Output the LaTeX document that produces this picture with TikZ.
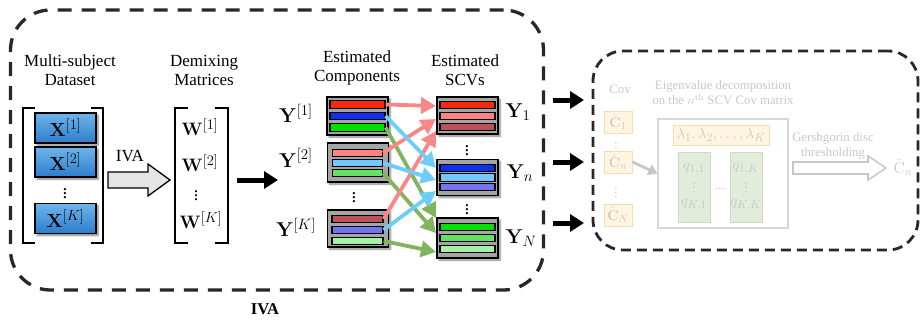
\documentclass[tikz,border=0pt]{standalone}
\usepackage{fix-cm}
\usepackage[no-math]{fontspec}
\setmainfont{Liberation Serif}
\usetikzlibrary{arrows.meta,calc,shadows.blur}
\definecolor{rA}{RGB}{250,40,10}
\definecolor{bA}{RGB}{10,50,240}
\definecolor{gA}{RGB}{0,225,0}
\definecolor{rB}{RGB}{255,130,130}
\definecolor{bB}{RGB}{115,200,255}
\definecolor{gB}{RGB}{100,225,100}
\definecolor{rC}{RGB}{190,80,90}
\definecolor{bC}{RGB}{115,115,240}
\definecolor{gC}{RGB}{165,240,165}
\definecolor{arR}{RGB}{250,135,135}
\definecolor{arB}{RGB}{110,205,250}
\definecolor{arG}{RGB}{130,180,95}
\definecolor{xtop}{RGB}{110,180,235}
\definecolor{xbot}{RGB}{45,125,205}
\definecolor{fadeT}{RGB}{200,200,200}
\definecolor{orF}{RGB}{255,245,225}
\definecolor{orD}{RGB}{240,222,185}
\definecolor{grF}{RGB}{226,236,218}
\definecolor{grD}{RGB}{205,218,195}
\definecolor{bigD}{RGB}{215,215,215}
\definecolor{dashc}{RGB}{40,40,40}
\definecolor{grpF}{RGB}{165,165,165}
\DeclareMathSizes{20}{20}{15}{11}
\DeclareMathSizes{19}{19}{14.5}{11}
\DeclareMathSizes{18}{18}{14.5}{10.5}
\DeclareMathSizes{15}{15}{11.5}{9}
\DeclareMathSizes{14}{14}{10.5}{8}
\begin{document}
\begin{tikzpicture}[x=1pt,y=-1pt,
  lbl/.style={font=\fontsize{17}{19}\selectfont, align=center, inner sep=0},
  mth/.style={font=\fontsize{19}{22}\selectfont, inner sep=0},
  wmth/.style={font=\fontsize{18}{20}\selectfont, inner sep=0},
  ymth/.style={font=\fontsize{20}{22}\selectfont, inner sep=0},
  shd/.style={blur shadow={shadow xshift=2pt, shadow yshift=-2pt, shadow blur steps=6, shadow opacity=50}},
  xbox/.style={draw=black, line width=1.3, top color=xtop, bottom color=xbot, minimum width=61, minimum height=30, inner sep=0, shd},
  ygrp/.style={draw=black, line width=1.3, fill=grpF, minimum width=61, inner sep=0, shd},
  ybar/.style={draw=black, line width=1.2, minimum height=7.5, inner sep=0},
  car/.style={line width=3.8, -{Triangle[length=15pt,width=16pt]}},
  blk/.style={line width=5, -{Triangle[length=14pt,width=17pt]}},
  brk/.style={line width=2.5},
  dbox/.style={draw=dashc, line width=3.3, inner sep=0},
  fade/.style={text=fadeT, font=\fontsize{12.8}{15}\selectfont, inner sep=0, align=center},
  cbox/.style={draw=orD, fill=orF, line width=1, minimum width=28, minimum height=22, inner sep=0, text=fadeT, font=\fontsize{14}{16}\selectfont},
  qbox/.style={draw=grD, fill=grF, line width=1, minimum width=32, minimum height=70, inner sep=0}
]
\useasboundingbox (0,0) rectangle (922,322);

% ---------- dashed frames ----------
\node[dbox, dash pattern=on 14pt off 10pt, rounded corners=40pt, minimum width=533, minimum height=280] (ivabox) at (277,150) {};
\node[dbox, dash pattern=on 10pt off 6pt, line width=2.8, rounded corners=30pt, minimum width=325, minimum height=199] (rbox) at (755.5,150.5) {};
\node[font=\bfseries\fontsize{16.5}{18}\selectfont, inner sep=0] (ivalbl) at (265,309) {IVA};

% ---------- dataset ----------
\node[lbl] (dslbl) at (70,70) {Multi-subject\\Dataset};
\node[minimum width=80, minimum height=135, inner sep=0] (Xmat) at (63,175.5) {};
\draw[brk] ([xshift=12pt]Xmat.north west) -- (Xmat.north west) -- (Xmat.south west) -- ([xshift=12pt]Xmat.south west);
\draw[brk] ([xshift=-12pt]Xmat.north east) -- (Xmat.north east) -- (Xmat.south east) -- ([xshift=-12pt]Xmat.south east);
\node[xbox, mth] (x1) at (65.5,128) {$\mathbf{X}^{[1]}$};
\node[xbox, mth] (x2) at (65.5,162) {$\mathbf{X}^{[2]}$};
\node[mth] (xd) at (65,191) {$\vdots$};
\node[xbox, mth] (xk) at (65.5,218.5) {$\mathbf{X}^{[K]}$};

% ---------- IVA block arrow ----------
\coordinate (ia) at (108,180);
\draw[line width=1.3, fill=gray!20, line join=miter] (ia) ++(0,-8) -- ++(40,0) -- ++(0,-8) -- ++(22,16) -- ++(-22,16) -- ++(0,-8) -- ++(-40,0) -- cycle;
\node[lbl] (ivatxt) at (130,156) {IVA};

% ---------- demixing ----------
\node[lbl] (dmlbl) at (204,70) {Demixing\\Matrices};
\node[minimum width=53, minimum height=135, inner sep=0] (Wmat) at (201.5,175.5) {};
\draw[brk] ([xshift=13pt]Wmat.north west) -- (Wmat.north west) -- (Wmat.south west) -- ([xshift=13pt]Wmat.south west);
\draw[brk] ([xshift=-13pt]Wmat.north east) -- (Wmat.north east) -- (Wmat.south east) -- ([xshift=-13pt]Wmat.south east);
\node[wmth] (w1) at (200,127) {$\mathbf{W}^{[1]}$};
\node[wmth] (w2) at (200,163) {$\mathbf{W}^{[2]}$};
\node[wmth] (wd) at (196,193) {$\vdots$};
\node[wmth] (wk) at (201,220) {$\mathbf{W}^{[K]}$};
\coordinate (ya) at (278,180);
\draw[blk] ([xshift=9pt]Wmat.east |- ya) -- (ya);

% ---------- estimated components ----------
\node[lbl] (eclbl) at (357,68) {Estimated\\Components};
\node[lbl] (sclbl) at (465,70) {Estimated\\SCVs};

\node[ygrp, minimum height=38] (g1) at (357.5,116) {};
\node[ybar, fill=rA, minimum width=55] (y1a) at (357.5,104.5) {};
\node[ybar, fill=bA, minimum width=55] (y1b) at (357.5,116) {};
\node[ybar, fill=gA, minimum width=55] (y1c) at (357.5,127.5) {};

\node[ygrp, minimum height=39] (g2) at (358,162.5) {};
\node[ybar, fill=rB, minimum width=50] (y2a) at (357.5,153) {};
\node[ybar, fill=bB, minimum width=50] (y2b) at (357.5,163) {};
\node[ybar, fill=gB, minimum width=50] (y2c) at (357.5,173) {};

\node[mth] (yd) at (354,195) {$\vdots$};

\node[ygrp, minimum height=37] (gk) at (358,228.5) {};
\node[ybar, fill=rC, minimum width=51] (yka) at (357.5,219) {};
\node[ybar, fill=bC, minimum width=51] (ykb) at (357.5,230) {};
\node[ybar, fill=gC, minimum width=51] (ykc) at (357.5,241) {};

\node[ymth] (l1) at (296,113) {$\mathbf{Y}^{[1]}$};
\node[ymth] (l2) at (296,158) {$\mathbf{Y}^{[2]}$};
\node[ymth] (lk) at (296,227) {$\mathbf{Y}^{[K]}$};

% ---------- SCVs ----------
\node[ygrp, minimum height=37] (s1) at (467.5,115.5) {};
\node[ybar, fill=rA, minimum width=55] (s1a) at (467.5,105) {};
\node[ybar, fill=rB, minimum width=55] (s1b) at (467.5,116) {};
\node[ybar, fill=rC, minimum width=55] (s1c) at (467.5,127) {};

\node[mth] (sd1) at (467,148) {$\vdots$};

\node[ygrp, minimum height=36] (sn) at (467.5,177.5) {};
\node[ybar, fill=bA, minimum width=55] (sna) at (467.5,168) {};
\node[ybar, fill=bB, minimum width=55] (snb) at (467.5,177.5) {};
\node[ybar, fill=bC, minimum width=55] (snc) at (467.5,187) {};

\node[mth] (sd2) at (467,207) {$\vdots$};

\node[ygrp, minimum height=40] (sN) at (467.5,238) {};
\node[ybar, fill=gA, minimum width=55] (sNa) at (467.5,227) {};
\node[ybar, fill=gB, minimum width=55] (sNb) at (467.5,238) {};
\node[ybar, fill=gC, minimum width=55] (sNc) at (467.5,249) {};

\node[ymth] (m1) at (518,112) {$\mathbf{Y}_1$};
\node[ymth] (mn) at (520,173) {$\mathbf{Y}_n$};
\node[ymth] (mN) at (521,238) {$\mathbf{Y}_N$};

% ---------- colored connectors ----------
\coordinate (tg1) at (436,218);
\coordinate (tg2) at (436,233);
\coordinate (tg3) at (436,252);
\coordinate (tr1) at (436,106);
\coordinate (tr2) at (436,119);
\coordinate (tr3) at (436,131);
\coordinate (tb1) at (436,168);
\coordinate (tb2) at (436,180);
\coordinate (tb3) at (436,191);
\draw[car, arG] (y1c.east) -- (tg1);
\draw[car, arG] (y2c.east) -- (tg2);
\draw[car, arG] (ykc.east) -- (tg3);
\draw[car, arR] (y1a.east) -- (tr1);
\draw[car, arR] (y2a.east) -- (tr2);
\draw[car, arR] (yka.east) -- (tr3);
\draw[car, arB] (y1b.east) -- (tb1);
\draw[car, arB] (y2b.east) -- (tb2);
\draw[car, arB] (ykb.east) -- (tb3);

% ---------- black arrows between frames ----------
\coordinate (r1) at (584,100);
\coordinate (r2) at (584,162);
\coordinate (r3) at (584,223);
\draw[blk] (ivabox.east |- r1) ++(8,0) -- (r1);
\draw[blk] (ivabox.east |- r2) ++(8,0) -- (r2);
\draw[blk] (ivabox.east |- r3) ++(8,0) -- (r3);

% ---------- faded right part ----------
\node[fade] (cov) at (620,89) {Cov};
\node[cbox] (c1) at (618,122) {$\hat{\mathbf{C}}_1$};
\node[fade] (cd1) at (616,145) {$\vdots$};
\node[cbox] (cn) at (618,162) {$\hat{\mathbf{C}}_n$};
\node[fade] (cd2) at (616,190) {$\vdots$};
\node[cbox] (cN) at (618,215) {$\hat{\mathbf{C}}_N$};

\node[fade] (eig) at (723,93) {Eigenvalue decomposition\\on the $n^{\mathrm{th}}$ SCV Cov matrix};
\node[draw=bigD, line width=1.2, fill=white, minimum width=130, minimum height=109, inner sep=0] (big) at (723,173.5) {};
\draw[line width=2.8, fadeT, -{Triangle[length=9pt,width=11pt]}] (cn.east) -- (big.west);
\node[draw=orD, fill=orF, line width=1, minimum width=96, minimum height=20, inner sep=0, text=fadeT, font=\fontsize{15}{17}\selectfont] (lam) at (721,135) {$\lambda_1,\lambda_2,\ldots,\lambda_K$};
\node[qbox] (q1) at (694,187) {};
\node[qbox] (q2) at (746,187) {};
\node[fade, font=\fontsize{15}{17}\selectfont] (q11) at (694,169) {$q_{1,1}$};
\node[fade] (q1d) at (694,185) {$\vdots$};
\node[fade, font=\fontsize{15}{17}\selectfont] (qk1) at (694,205) {$q_{K,1}$};
\node[fade, font=\fontsize{15}{17}\selectfont] (q1k) at (746,169) {$q_{1,K}$};
\node[fade] (q2d) at (746,185) {$\vdots$};
\node[fade, font=\fontsize{15}{17}\selectfont] (qkk) at (746,205) {$q_{K,K}$};
\node[fade] (qdots) at (720,189) {...};

\node[fade] (gers) at (833,146) {Gershgorin disc\\thresholding};
\coordinate (ga) at (793,168);
\draw[line width=1.6, draw=fadeT, fill=white, line join=miter] (ga) ++(0,-6) -- ++(75,0) -- ++(0,-6) -- ++(18,12) -- ++(-18,12) -- ++(0,-6) -- ++(-75,0) -- cycle;
\node[fade, font=\fontsize{16}{18}\selectfont] (cbar) at (903,168) {$\bar{\mathrm{C}}_n$};
\end{tikzpicture}
\end{document}
